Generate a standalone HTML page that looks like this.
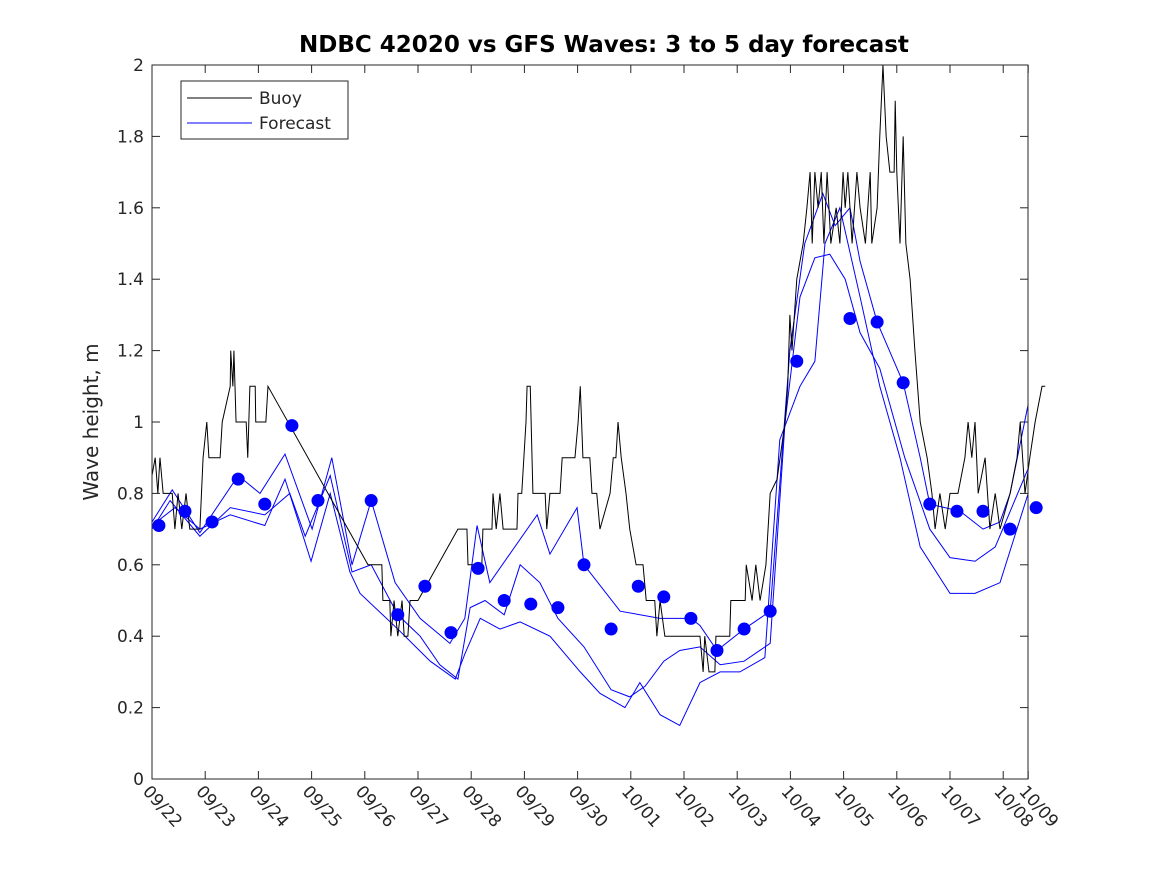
<!DOCTYPE html>
<html><head><meta charset="utf-8"><style>
body{margin:0;background:#fff;}
svg text{font-family:"DejaVu Sans","Liberation Sans",sans-serif;}
</style></head><body>
<svg id="c" width="1167" height="875">
<rect x="0" y="0" width="1167" height="875" fill="#fff"/>
<text x="604" y="52" text-anchor="middle" font-size="23" font-weight="bold" fill="#000">NDBC 42020 vs GFS Waves: 3 to 5 day forecast</text>
<text transform="translate(98,422) rotate(-90)" text-anchor="middle" font-size="20" fill="#262626">Wave height, m</text>
<g id="axes"></g>
<g id="marks"></g>
<rect x="152" y="65" width="876" height="714" fill="none" stroke="#262626" stroke-width="1"/>
<g>
<rect x="181" y="81" width="167" height="58" fill="#fff" stroke="#262626"/>
<line x1="187" y1="98" x2="252" y2="98" stroke="#000"/>
<text x="259" y="104" font-size="17" fill="#262626">Buoy</text>
<line x1="187" y1="123" x2="252" y2="123" stroke="#00f"/>
<text x="259" y="129" font-size="17" fill="#262626">Forecast</text>
</g>
</svg>
<script>
const xTicks=["09/22","09/23","09/24","09/25","09/26","09/27","09/28","09/29","09/30","10/01","10/02","10/03","10/04","10/05","10/06","10/07","10/08","10/09"];
const xTickDays=[0,1,2,3,4,5,6,7,8,9,10,11,12,13,14,15,16,16.47];
const yTicks=[0,0.2,0.4,0.6,0.8,1,1.2,1.4,1.6,1.8,2];
const buoyDays=[0,.06,.11,.15,.21,.38,.43,.49,.56,.64,.71,.90,.96,1.03,1.07,1.28,1.32,1.47,1.48,1.52,1.54,1.58,1.77,1.80,1.84,1.94,1.95,2.14,2.18,4.06,4.32,4.34,4.47,4.49,4.55,4.62,4.70,4.74,4.81,4.85,5.00,5.75,5.92,5.94,6.20,6.22,6.39,6.41,6.47,6.54,6.60,6.86,6.88,6.95,7.03,7.05,7.11,7.16,7.39,7.42,7.48,7.58,7.67,7.71,7.95,8.01,8.05,8.10,8.23,8.27,8.36,8.42,8.61,8.67,8.72,8.76,8.82,8.91,8.98,9.10,9.23,9.29,9.45,9.49,9.55,9.64,10.30,10.36,10.39,10.47,10.58,10.60,10.86,10.88,11.15,11.17,11.28,11.35,11.43,11.54,11.62,11.75,11.90,11.95,11.99,12.03,12.12,12.24,12.31,12.37,12.41,12.46,12.52,12.58,12.63,12.69,12.76,12.86,12.93,12.99,13.03,13.08,13.16,13.25,13.31,13.41,13.50,13.53,13.63,13.68,13.74,13.80,13.87,13.95,13.97,14.00,14.06,14.12,14.17,14.25,14.34,14.44,14.57,14.66,14.72,14.81,14.91,15.00,15.15,15.28,15.34,15.41,15.47,15.53,15.66,15.75,15.85,15.94,16.13,16.26,16.32,16.41,16.50,16.60,16.73,16.79];
const buoyVals=[.85,.9,.8,.9,.8,.8,.7,.8,.7,.8,.7,.7,.9,1.0,.9,.9,1.0,1.1,1.2,1.1,1.2,1.0,1.0,.9,1.1,1.1,1.0,1.0,1.1,.6,.6,.5,.5,.4,.5,.4,.5,.4,.4,.5,.5,.7,.7,.6,.6,.7,.7,.8,.7,.8,.7,.7,.8,.8,1.0,1.1,1.1,.8,.8,.7,.8,.8,.8,.9,.9,1.0,1.1,.9,.9,.8,.8,.7,.8,.9,.9,1.0,.9,.8,.7,.6,.6,.5,.5,.4,.5,.4,.4,.3,.4,.3,.3,.4,.4,.5,.5,.6,.5,.6,.5,.6,.8,.84,1.0,1.1,1.3,1.2,1.4,1.5,1.6,1.7,1.5,1.7,1.6,1.7,1.5,1.7,1.5,1.6,1.5,1.7,1.6,1.7,1.5,1.7,1.6,1.5,1.7,1.5,1.6,1.8,2.0,1.8,1.7,1.7,1.9,1.7,1.5,1.8,1.5,1.4,1.2,1.0,.9,.8,.7,.8,.7,.8,.8,.9,1.0,.9,1.0,.8,.9,.7,.8,.7,.8,.9,1.0,.8,.9,1.0,1.1,1.1];
const fcHighDays=[0,.38,.90,1.62,2.03,2.50,3.01,3.38,3.76,4.12,4.57,5.04,5.60,5.88,6.11,6.35,7.24,7.48,7.99,8.12,8.80,9.55,10.13,10.30,10.62,11.13,11.62,11.99,12.27,12.61,12.84,13.12,13.31,13.63,14.12,14.44,14.62,15.19,15.62,15.94,16.13,16.47];
const fcHigh=[.72,.81,.69,.85,.80,.91,.70,.90,.60,.78,.55,.45,.38,.45,.71,.55,.74,.63,.76,.60,.47,.45,.45,.43,.36,.42,.47,1.2,1.50,1.64,1.55,1.60,1.45,1.28,1.11,.90,.77,.75,.70,.72,.80,1.05];
const fcMidDays=[0,.34,.90,1.47,2.12,2.59,2.88,3.35,3.76,4.12,4.62,5.04,5.41,5.75,5.98,6.26,6.62,6.92,7.29,7.63,8.12,8.63,8.98,9.27,9.62,9.92,10.30,10.68,11.13,11.62,11.90,12.18,12.46,12.74,13.03,13.31,13.68,14.15,14.62,15.00,15.47,15.85,16.47];
const fcMid=[.70,.78,.68,.76,.74,.80,.68,.85,.58,.60,.46,.40,.32,.28,.48,.50,.46,.60,.55,.45,.37,.25,.23,.26,.33,.36,.37,.32,.33,.38,1.0,1.35,1.46,1.47,1.40,1.25,1.15,.90,.70,.62,.61,.65,.87];
const fcLowDays=[0,.43,.90,1.47,2.12,2.50,2.99,3.35,3.72,3.91,4.62,5.23,5.70,5.88,6.17,6.54,6.92,7.48,8.05,8.42,8.89,9.17,9.55,9.92,10.30,10.68,11.05,11.52,11.80,12.18,12.46,12.65,12.93,13.31,13.68,14.06,14.44,15.00,15.47,15.94,16.47];
const fcLow=[.71,.76,.70,.74,.71,.84,.61,.80,.58,.52,.42,.33,.28,.35,.45,.42,.44,.40,.30,.24,.20,.27,.18,.15,.27,.30,.30,.34,.95,1.10,1.17,1.50,1.60,1.35,1.10,.90,.65,.52,.52,.55,.80];
const dotDays=[0.13,0.62,1.13,1.62,2.12,2.63,3.12,4.12,4.62,5.13,5.62,6.13,6.62,7.12,7.63,8.12,8.63,9.14,9.62,10.13,10.62,11.13,11.62,12.12,13.12,13.63,14.12,14.62,15.13,15.62,16.13,16.62];
const dotVals=[0.71,0.75,0.72,0.84,0.77,0.99,0.78,0.78,0.46,0.54,0.41,0.59,0.50,0.49,0.48,0.60,0.42,0.54,0.51,0.45,0.36,0.42,0.47,1.17,1.29,1.28,1.11,0.77,0.75,0.75,0.70,0.76];
const X0=152,X1=1028,Y0=779,Y1=65,PXD=53.2;
const xs=d=>X0+d*PXD, ys=v=>Y0-v*(Y0-Y1)/2;
const NS="http://www.w3.org/2000/svg";
const axes=document.getElementById('axes'), marks=document.getElementById('marks');
function mk(t,a,p){const e=document.createElementNS(NS,t);for(const k in a)e.setAttribute(k,a[k]);p.appendChild(e);return e;}
yTicks.forEach(v=>{const y=ys(v);
 const l=mk('line',{x1:X0,x2:X0+8,y1:y,y2:y,stroke:'#262626'},axes);
 
 
 const l2=mk('line',{x1:X1-8,x2:X1,y1:y,y2:y,stroke:'#262626'},axes);
 
 
 const t=mk('text',{x:X0-8,y:y+6,'text-anchor':'end','font-size':17,fill:'#262626'},axes);t.textContent=String(v);
 
 
});
xTicks.forEach((s,i)=>{const x=xs(xTickDays[i]);
 const l=mk('line',{x1:x,x2:x,y1:Y0,y2:Y0-8,stroke:'#262626'},axes);
 
 
 const l2=mk('line',{x1:x,x2:x,y1:Y1,y2:Y1+8,stroke:'#262626'},axes);
 
 
 const t=mk('text',{transform:`translate(${x-10},${Y0+13}) rotate(48)`,'font-size':17,fill:'#262626'},axes);t.textContent=s;
 
 
});
function line(ds,vs,col,name){const p=mk('polyline',{points:ds.map((d,i)=>xs(d)+','+ys(vs[i])).join(' '),fill:'none',stroke:col,'stroke-width':1},marks);
 
 }
line(fcHighDays,fcHigh,'#00f','forecast-line-high');
line(fcMidDays,fcMid,'#00f','forecast-line-mid');
line(fcLowDays,fcLow,'#00f','forecast-line-low');
line(buoyDays,buoyVals,'#000','buoy-line');
dotDays.forEach((d,i)=>{const c=mk('circle',{cx:xs(d),cy:ys(dotVals[i]),r:6.5,fill:'#00f'},marks);
 
 });
</script>
</body></html>
